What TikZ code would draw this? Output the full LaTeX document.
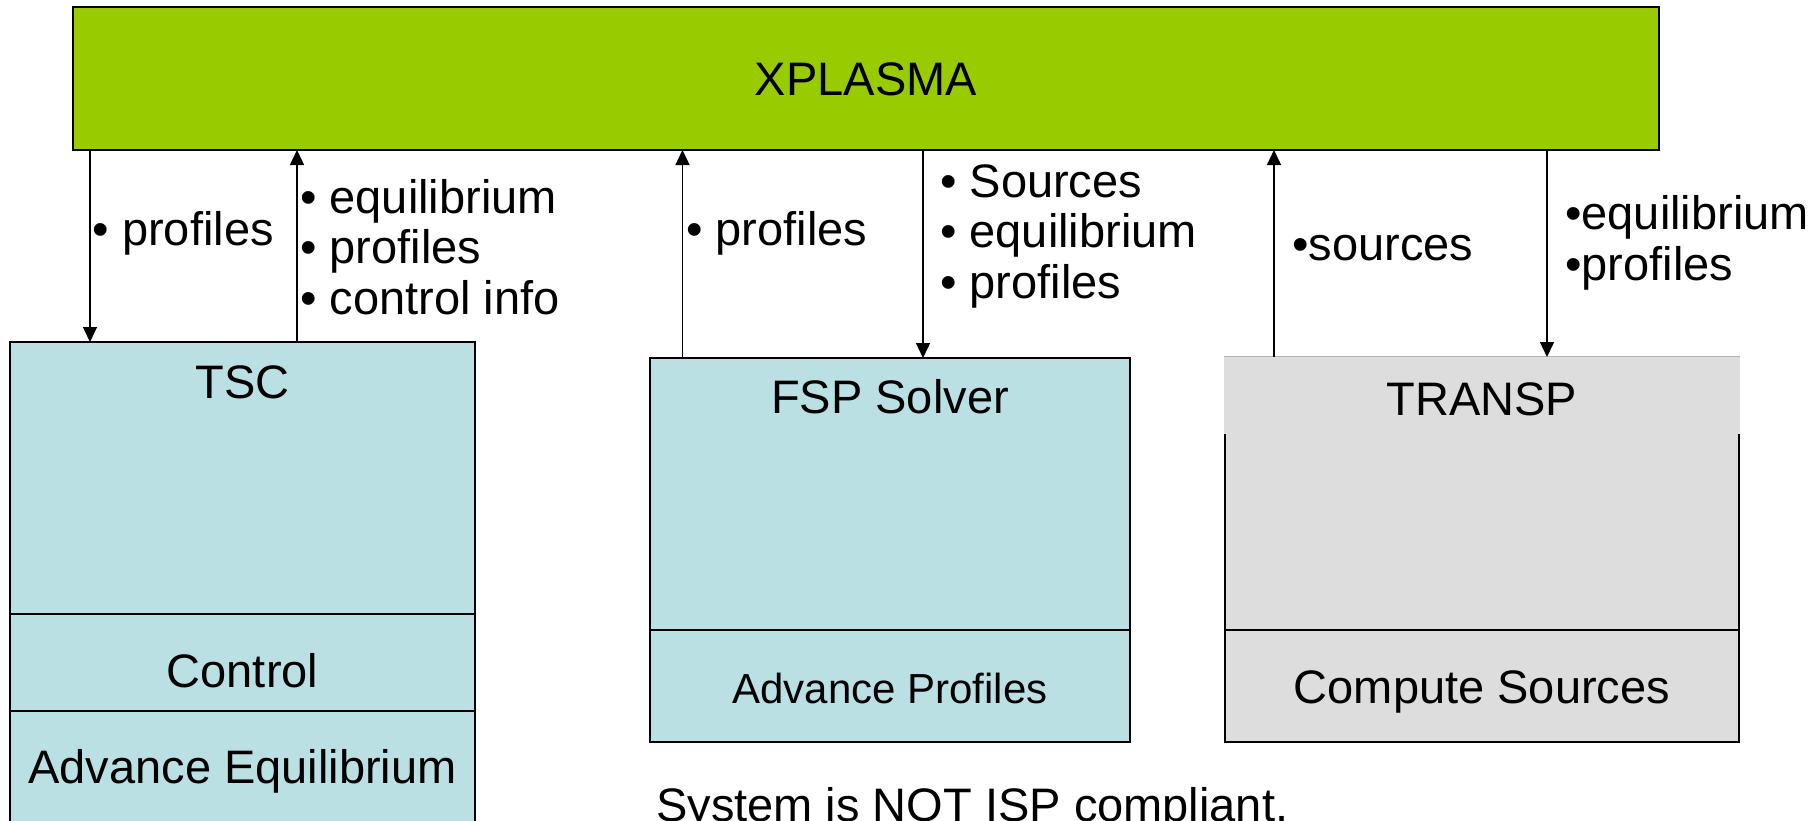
\documentclass[tikz,border=0pt]{standalone}
\usepackage{fontspec}
\setmainfont{Liberation Sans}
\usetikzlibrary{arrows.meta}
\definecolor{xgreen}{HTML}{99CC00}
\definecolor{lblue}{HTML}{BBE0E3}
\definecolor{lgray}{HTML}{DDDDDD}
\begin{document}
\begin{tikzpicture}[x=1pt,y=-1pt,
  box/.style={draw=black,line width=1.6pt,inner sep=0pt,outer sep=0pt,anchor=north west},
  arr/.style={line width=1.4pt,-{Triangle[length=15pt,width=14pt]}},
  big/.style={font=\fontsize{47}{50}\selectfont,inner sep=0pt,text height=33.7pt,text depth=0pt},
  small/.style={font=\fontsize{42}{45}\selectfont,inner sep=0pt,text height=30.1pt,text depth=0pt},
  lbl/.style={font=\fontsize{47}{50}\selectfont,inner sep=0pt,anchor=base west},
]
\clip (0,0) rectangle (1818,820);
\fill[white] (0,0) rectangle (1818,820);

% top box
\node[box,fill=xgreen,minimum width=1586pt,minimum height=143pt,big] (xplasma) at (73,7) {XPLASMA};

% TSC
\node[box,fill=lblue,minimum width=465pt,minimum height=272pt] (tsc) at (10,342) {};
\node[box,fill=lblue,minimum width=465pt,minimum height=97pt] (ctrl) at (10,614) {};
\node[box,fill=lblue,minimum width=465pt,minimum height=140pt] (adveq) at (10,711) {};
\node[big] (tsct) at (242.5,381.7) {TSC};
\node[big] (ctrlt) at (242.5,671) {Control};
\node[big] (adveqt) at (242.5,767) {Advance Equilibrium};

% FSP
\node[box,fill=lblue,minimum width=480pt,minimum height=272pt] (fsp) at (650,358) {};
\node[box,fill=lblue,minimum width=480pt,minimum height=112pt] (advp) at (650,630) {};
\node[big] (fspt) at (890,397) {FSP Solver};
\node[small] (advpt) at (890,688) {Advance Profiles};

% TRANSP
\node[box,fill=lgray,minimum width=514pt,minimum height=273pt] (transp) at (1225,357) {};
\node[box,fill=lgray,minimum width=514pt,minimum height=112pt] (comp) at (1225,630) {};
\node[anchor=north west,fill=lgray,inner sep=0pt,outer sep=0pt,minimum width=516pt,minimum height=78pt] (transphead) at (1224,356) {};
\draw[black!30,line width=1pt] (transphead.north west) -- (transphead.north east);
\node[big] (transpt) at (1482,399) {TRANSP};
\node[big] (compt) at (1482,687) {Compute Sources};

% arrow columns
\coordinate (a1) at (90,0);
\coordinate (a2) at (297,0);
\coordinate (a3) at (682.5,0);
\coordinate (a4) at (923,0);
\coordinate (a5) at (1274,0);
\coordinate (a6) at (1547,0);

\draw[arr] (xplasma.south -| a1) -- (tsc.north -| a1);
\draw[arr] (tsc.north -| a2) -- (xplasma.south -| a2);
\draw[arr] (fsp.north -| a3) -- (xplasma.south -| a3);
\draw[arr] (xplasma.south -| a4) -- (fsp.north -| a4);
\draw[arr] (transp.north -| a5) -- (xplasma.south -| a5);
\draw[arr] (xplasma.south -| a6) -- (transp.north -| a6);

% labels
\node[lbl] (l1) at (92.5,245) {• profiles};
\node[lbl] (l2a) at (300,213) {• equilibrium};
\node[lbl] (l2b) at (300,263.5) {• profiles};
\node[lbl] (l2c) at (300,314) {• control info};
\node[lbl] (l3) at (686,245) {• profiles};
\node[lbl] (l4a) at (940,197) {• Sources};
\node[lbl] (l4b) at (940,247.5) {• equilibrium};
\node[lbl] (l4c) at (940,298) {• profiles};
\node[lbl] (l5) at (1292,260) {•sources};
\node[lbl] (l6a) at (1565,229) {•equilibrium};
\node[lbl] (l6b) at (1565,280) {•profiles};

\node[lbl] (note) at (656,821.6) {System is NOT ISP compliant.};
\end{tikzpicture}
\end{document}
